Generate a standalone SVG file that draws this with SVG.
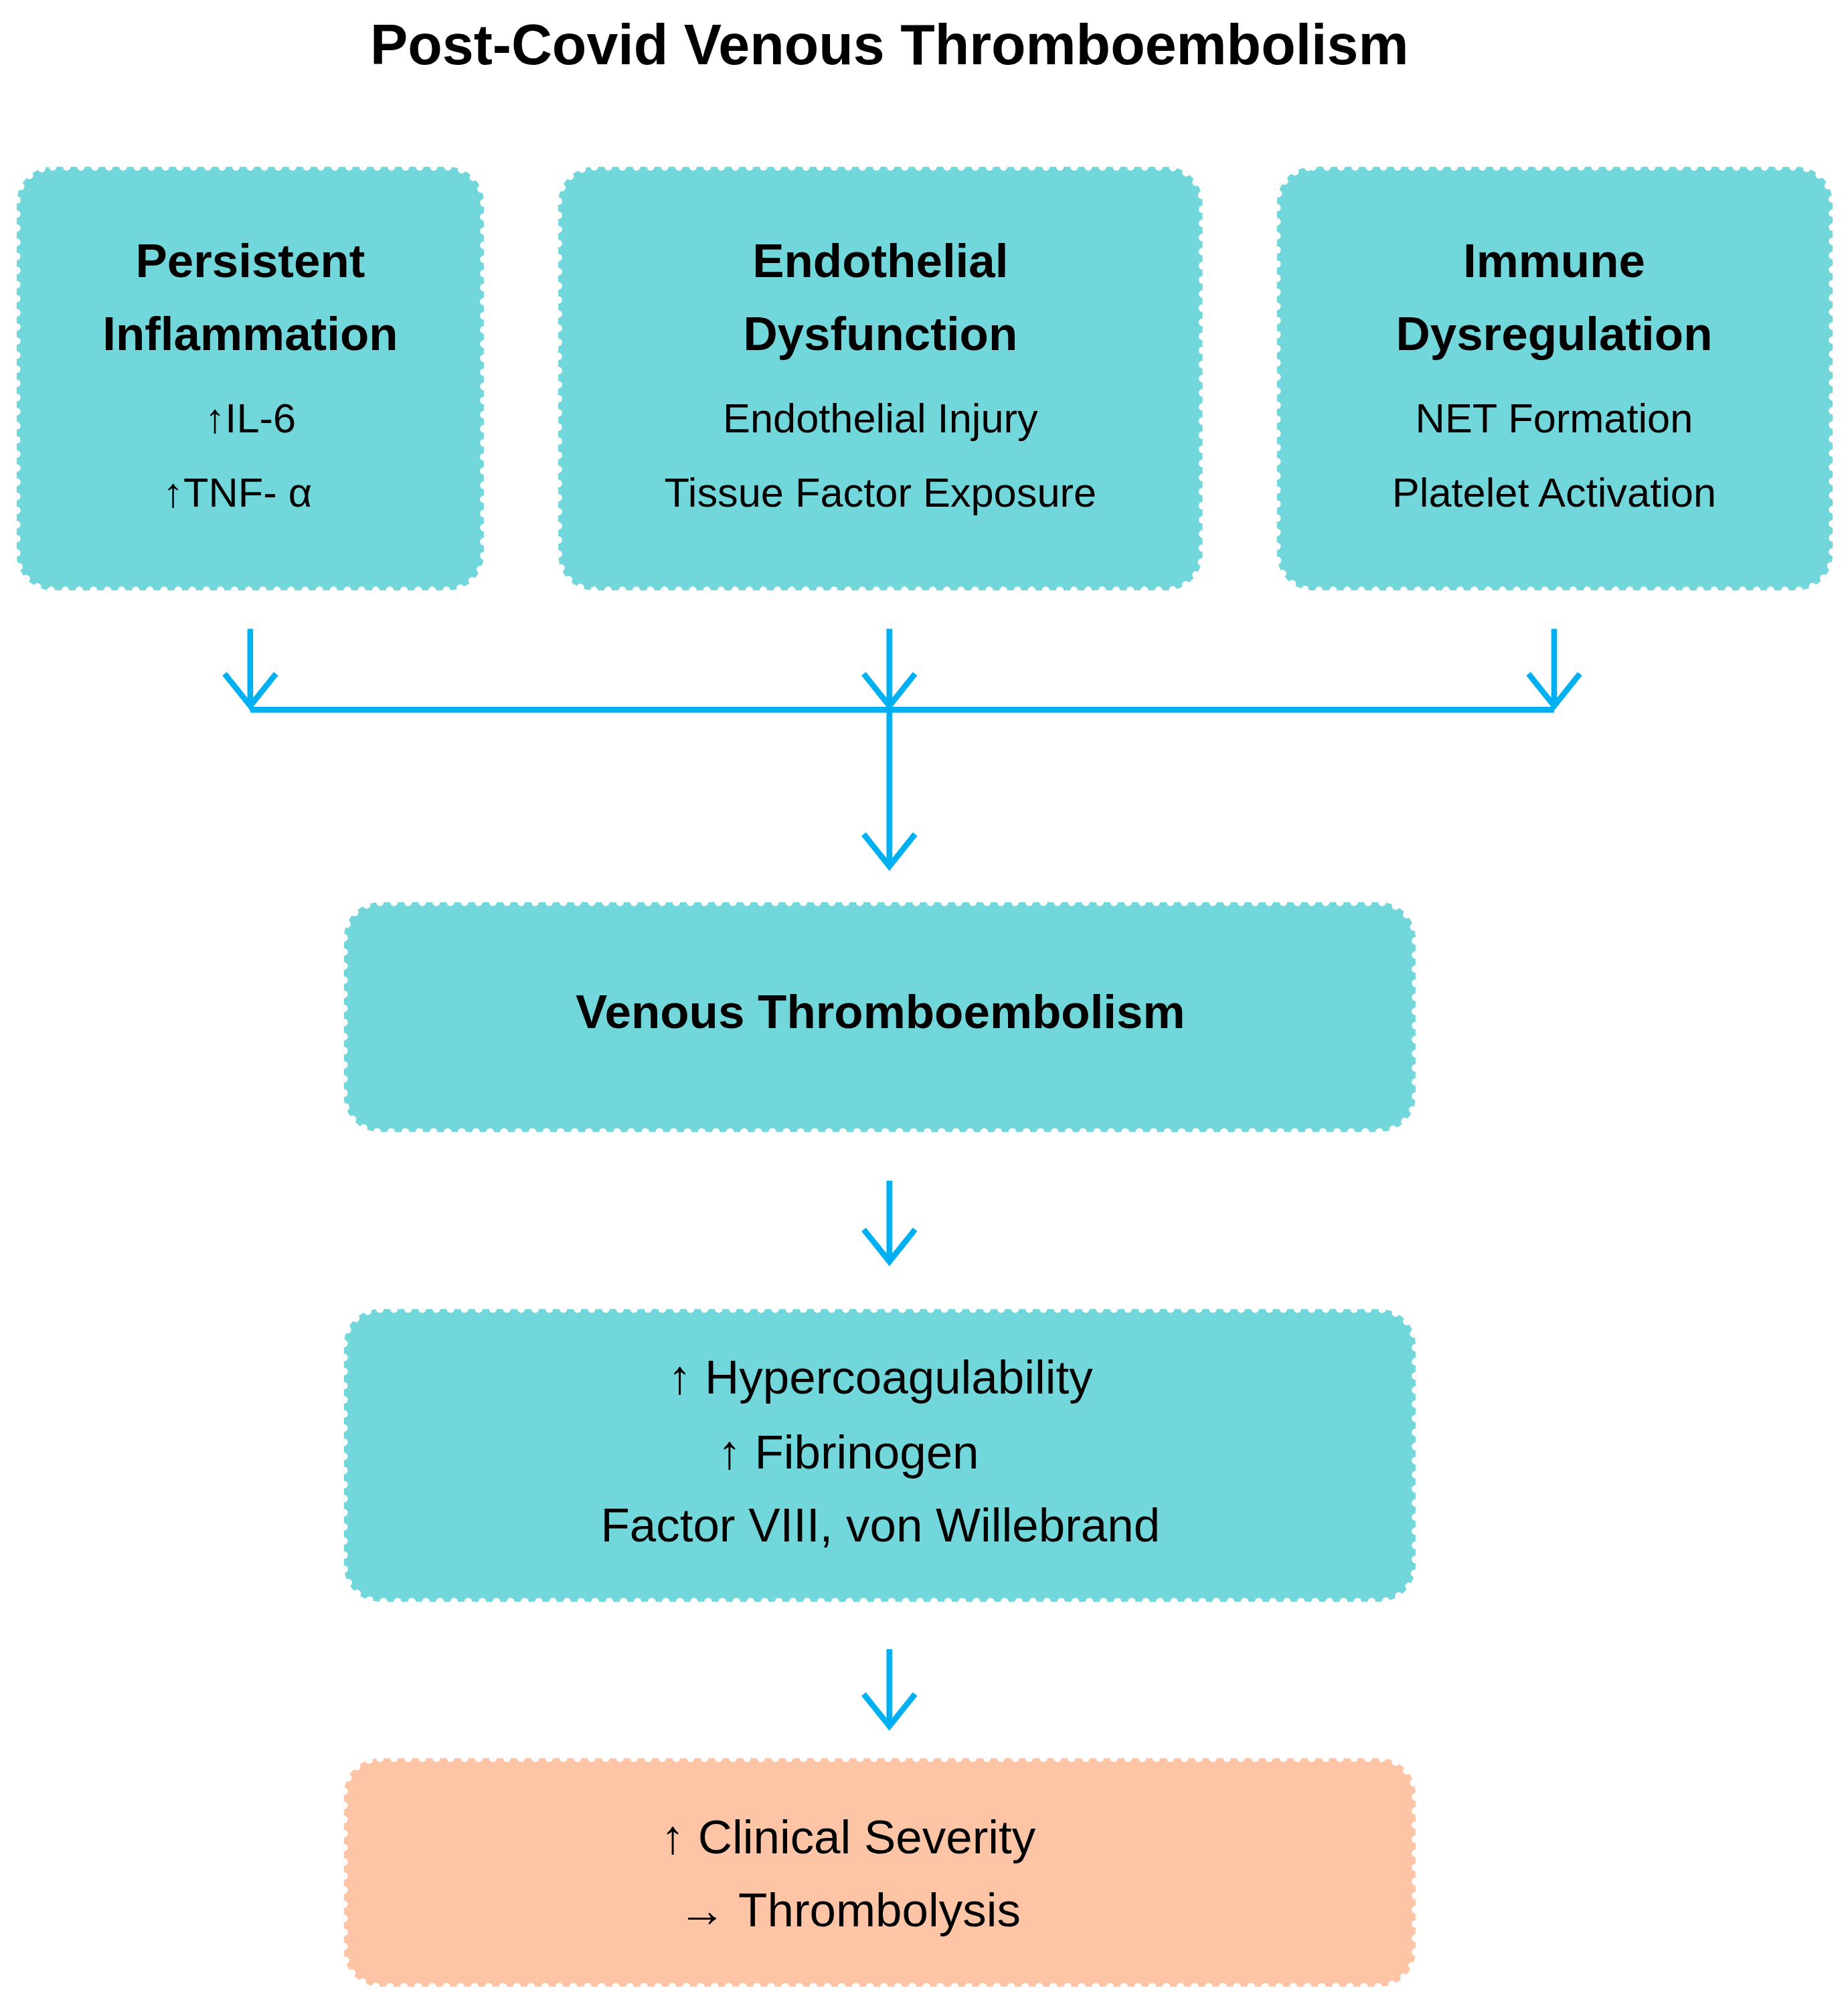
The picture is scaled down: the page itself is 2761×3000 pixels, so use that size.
<svg xmlns="http://www.w3.org/2000/svg" width="2761" height="3000" viewBox="0 0 2761 3000">
<style>
.box{fill:#72D7DB;stroke:#fff;stroke-width:6;stroke-dasharray:0 11;stroke-linecap:round}
.orange{fill:#FDC5A5}
text{font-family:"Liberation Sans",Arial,sans-serif;text-anchor:middle;fill:#000}
.h{font-weight:bold;font-size:37px}
.t{font-size:32px}
.b{font-size:37px}
.c{stroke:#00B0F0;stroke-width:4.5;fill:none}
</style>
<rect width="2761" height="3000" fill="#fff"/>
<g transform="scale(1.9174)">
<text x="693" y="50" style="font-weight:bold;font-size:44px">Post-Covid Venous Thromboembolism</text>
<g id="n1"><rect class="box" x="13" y="130" width="364" height="330" rx="28"/>
<text class="h" x="195" y="216">Persistent</text><text class="h" x="195" y="273">Inflammation</text>
<text class="t" x="195" y="337">↑IL-6</text><text class="t" x="185" y="395">↑TNF- α</text></g>
<g id="n2"><rect class="box" x="435" y="130" width="502" height="330" rx="28"/>
<text class="h" x="686" y="216">Endothelial</text><text class="h" x="686" y="273">Dysfunction</text>
<text class="t" x="686" y="337">Endothelial Injury</text><text class="t" x="686" y="395">Tissue Factor Exposure</text></g>
<g id="n3"><rect class="box" x="995" y="130" width="433" height="330" rx="28"/>
<text class="h" x="1211" y="216">Immune</text><text class="h" x="1211" y="273">Dysregulation</text>
<text class="t" x="1211" y="337">NET Formation</text><text class="t" x="1211" y="395">Platelet Activation</text></g>
<g id="n4"><rect class="box" x="268" y="703" width="835" height="179" rx="28"/>
<text class="h" x="686" y="801">Venous Thromboembolism</text></g>
<g id="n5"><rect class="box" x="268" y="1020" width="835" height="228" rx="28"/>
<text class="b" x="686" y="1086">↑ Hypercoagulability</text><text class="b" x="661" y="1144">↑ Fibrinogen</text><text class="b" x="686" y="1201">Factor VIII, von Willebrand</text></g>
<g id="n6"><rect class="box orange" x="268" y="1370" width="835" height="178" rx="28"/>
<text class="b" x="661" y="1444">↑ Clinical Severity</text><text class="b" x="662" y="1501">→ Thrombolysis</text></g>
<g id="connectors" class="c">
<path d="M195 490V550M175 525L195 550L215 525"/>
<path d="M693 490V550M673 525L693 550L713 525"/>
<path d="M1211 490V550M1191 525L1211 550L1231 525"/>
<path d="M195 553H1211"/>
<path d="M693 553V675M673 650L693 675L713 650"/>
<path d="M693 920V983M673 958L693 983L713 958"/>
<path d="M693 1285V1345M673 1320L693 1345L713 1320"/>
</g>
</g>
</svg>
